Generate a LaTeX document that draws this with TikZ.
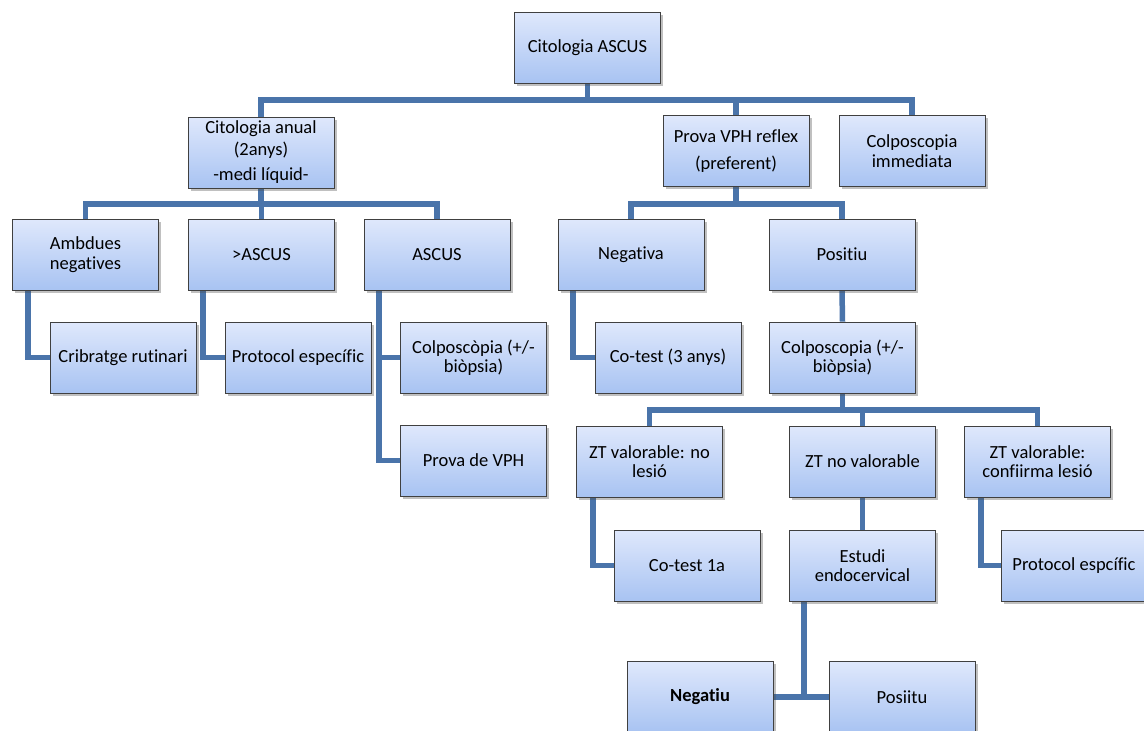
\documentclass[tikz,border=0pt]{standalone}
\usepackage{fontspec}
\setmainfont{Carlito}[Ligatures=NoCommon]
\usetikzlibrary{shadows,backgrounds}
\definecolor{linkblue}{HTML}{4A74AA}
\definecolor{boxtop}{HTML}{DFE8FC}
\definecolor{boxbot}{HTML}{A8C3F2}
\definecolor{boxline}{HTML}{404040}
\tikzset{
  box/.style={rectangle, draw=boxline, line width=0.8pt,
    top color=boxtop, bottom color=boxbot,
    minimum width=146pt, minimum height=71pt, inner sep=2pt,
    align=center, font=\fontsize{18.5}{19.5}\selectfont,
    drop shadow={shadow xshift=2.5pt, shadow yshift=-2.5pt, opacity=0.35, fill=black!70}},
  link/.style={draw=linkblue, line width=5.5pt, line cap=butt, line join=miter}
}
\begin{document}
\begin{tikzpicture}[x=1pt, y=-1pt]
\useasboundingbox (0,0) rectangle (1144,731);

% level 0
\node[box] (asc) at (587.5,47.5) {Citologia ASCUS};
% level 1
\node[box] (anual) at (261,152.5) {Citologia anual\\[2pt](2anys)\\[6pt]-medi líquid-};
\node[box] (vph) at (736,151) {Prova VPH reflex\\[8pt](preferent)};
\node[box] (colimm) at (912,151) {Colposcopia\\immediata};
% level 2
\node[box] (amb) at (85.5,254.5) {Ambdues\\negatives};
\node[box] (gasc) at (261.5,254.5) {>ASCUS};
\node[box] (ascus) at (437,254.5) {ASCUS};
\node[box] (neg) at (631,254.5) {Negativa};
\node[box] (pos) at (842,254.5) {Positiu};
% level 3
\node[box] (crib) at (123,357.5) {Cribratge rutinari};
\node[box] (prot) at (298,357.5) {Protocol específic};
\node[box] (colb) at (473.5,357.5) {Colposcòpia (+/-\\biòpsia)};
\node[box] (pvph) at (473.5,460.5) {Prova de VPH};
\node[box] (cot3) at (668,357.5) {Co-test (3 anys)};
\node[box] (colp) at (842.5,357.5) {Colposcopia (+/-\\biòpsia)};
% level 4
\node[box] (ztno) at (649.5,461.5) {ZT valorable: no\\lesió};
\node[box] (ztnv) at (862.5,461.5) {ZT no valorable};
\node[box] (ztcf) at (1037.5,461.5) {ZT valorable:\\confiirma lesió};
% level 5
\node[box] (cot1) at (687,565.5) {Co-test 1a};
\node[box] (estu) at (862.5,565.5) {Estudi\\endocervical};
\node[box] (pesp) at (1074,565.5) {Protocol espcífic};
% level 6
\node[box] (negu) at (700,697) {\textbf{Negatiu}};
\node[box] (posu) at (902,697) {Posiitu};

\begin{scope}[on background layer]
  \fill[white] (0,0) rectangle (1144,731);
  % first split
  \coordinate (b0) at (587.5,100);
  \draw[link] (asc.south) -- (b0);
  \draw[link] (anual.north) |- (b0) -| (colimm.north);
  \draw[link] (vph.north) -- (vph.north |- b0);
  % below the annual cytology
  \coordinate (b1) at (261,204);
  \draw[link] (anual.south) -- (b1);
  \draw[link] (amb.north) |- (b1) -| (ascus.north);
  \draw[link] (gasc.north) -- (gasc.north |- b1);
  % below the reflex HPV test
  \coordinate (b2) at (736,204);
  \draw[link] (vph.south) -- (b2);
  \draw[link] (neg.north) |- (b2) -| (pos.north);
  % side branches
  \draw[link] ([xshift=-57.5pt]amb.south) |- (crib.west);
  \draw[link] ([xshift=-58.5pt]gasc.south) |- (prot.west);
  \draw[link] ([xshift=-58pt]ascus.south) |- (colb.west);
  \draw[link] ([xshift=-58pt]ascus.south) |- (pvph.west);
  \draw[link] ([xshift=-58pt]neg.south) |- (cot3.west);
  \draw[link] (pos.south) -- (colp.north);
  % below the colposcopy
  \coordinate (b3) at (842.5,410);
  \draw[link] (colp.south) -- (b3);
  \draw[link] (ztno.north) |- (b3) -| (ztcf.north);
  \draw[link] (ztnv.north) -- (ztnv.north |- b3);
  \draw[link] ([xshift=-56.5pt]ztno.south) |- (cot1.west);
  \draw[link] (ztnv.south) -- (estu.north);
  \draw[link] ([xshift=-56.5pt]ztcf.south) |- (pesp.west);
  % endocervical study outcome
  \coordinate (b4) at (804,697);
  \draw[link] ([xshift=-58.5pt]estu.south) -- (b4);
  \draw[link] (negu.east) -- (posu.west);
\end{scope}
\end{tikzpicture}
\end{document}
